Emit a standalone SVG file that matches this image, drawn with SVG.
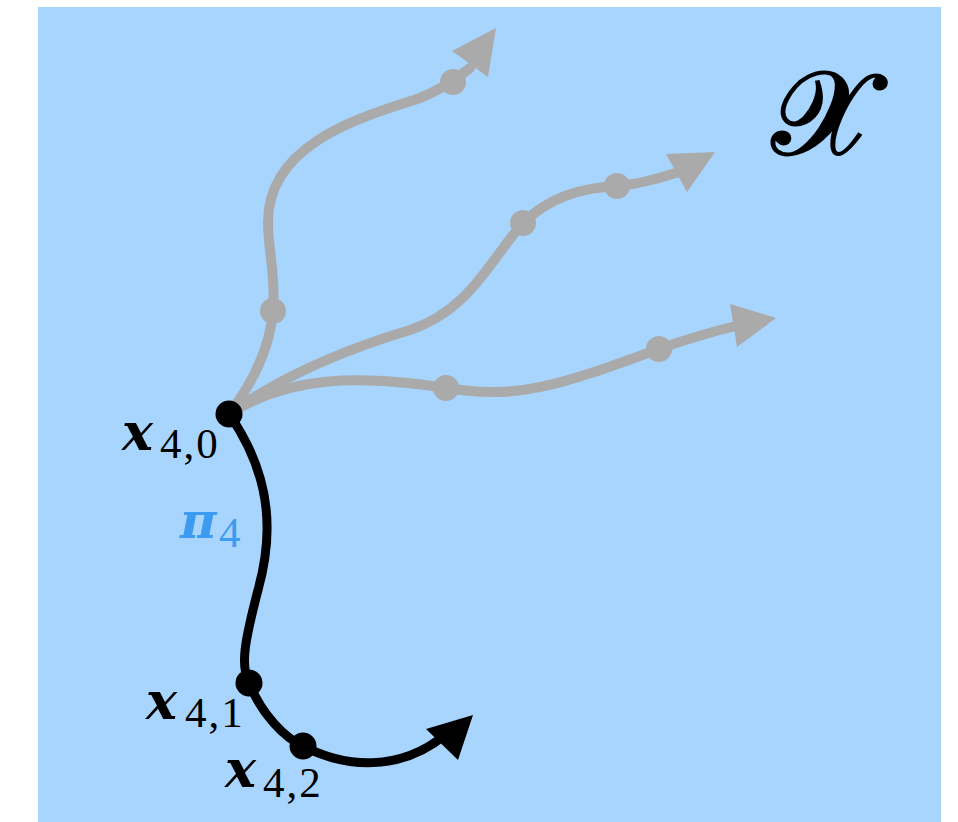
<svg xmlns="http://www.w3.org/2000/svg" width="958" height="822" viewBox="0 0 958 822">
<style>
.g{fill:none;stroke:#aaaaaa;stroke-width:10;stroke-linecap:round}
.gd{fill:#aaaaaa}
.b{fill:none;stroke:#000;stroke-width:9;stroke-linecap:round}
.bd{fill:#000}
.mx{font-family:"DejaVu Serif",serif;font-style:italic;font-weight:bold;font-size:52px;fill:#000}
.sub{font-family:"Liberation Serif",serif;font-size:43px;letter-spacing:2px;fill:#000}
</style>
<rect x="38" y="7" width="903" height="815" fill="#a8d5fe"/>
<g id="connectors">
<path class="g" d="M229,414 C255,380 270,345 273,311 C276,272 268,252 268,222 C268,140 370,115 420,98 C440,90 455,80 470,68"/>
<polygon class="gd" points="496,28 452,51 488,77"/>
<path class="g" d="M229,414 C290,370 360,345 410,330 C470,310 490,260 523,223 C550,197 580,188 617,186 C640,184 660,178 685,170"/>
<polygon class="gd" points="715,152 666,154 687,192"/>
<path class="g" d="M229,414 C290,375 360,375 446,388 C520,400 560,385 659,349 C690,338 710,332 740,325"/>
<polygon class="gd" points="776,318 730,304 737,347"/>
<path class="b" d="M229,414 C275,480 272,540 258,590 C245,640 240,665 249,683 C262,715 285,738 303,746 C345,768 400,772 445,735"/>
<polygon class="bd" points="473,715 426,729 458,760"/>
</g>
<g id="n_g1"><circle class="gd" cx="273" cy="311" r="13"/><circle class="gd" cx="453" cy="82" r="13"/></g>
<g id="n_g2"><circle class="gd" cx="523" cy="223" r="13"/><circle class="gd" cx="617" cy="186" r="13"/></g>
<g id="n_g3"><circle class="gd" cx="446" cy="388" r="13"/><circle class="gd" cx="659" cy="349" r="13"/></g>
<g id="n_x40"><circle class="bd" cx="229" cy="414" r="13.5"/>
<text x="122" y="450" class="mx">x</text><text x="160" y="458" class="sub">4,0</text></g>
<g id="n_pi"><text x="180" y="538" font-family="DejaVu Serif,serif" font-style="italic" font-weight="bold" font-size="50" fill="#3c9af0">π</text><text x="219" y="547" class="sub" style="fill:#3c9af0">4</text></g>
<g id="n_x41"><circle class="bd" cx="249" cy="683" r="13.5"/>
<text x="146" y="719" class="mx">x</text><text x="185" y="727" class="sub">4,1</text></g>
<g id="n_x42"><circle class="bd" cx="303" cy="746" r="13.5"/>
<text x="225" y="787" class="mx">x</text><text x="263" y="797" class="sub">4,2</text></g>
<g id="n_X"><text x="772" y="154" font-family="DejaVu Serif,Liberation Serif,serif" font-size="118" fill="#000" stroke="#000" stroke-width="3">𝒳</text></g>
</svg>
